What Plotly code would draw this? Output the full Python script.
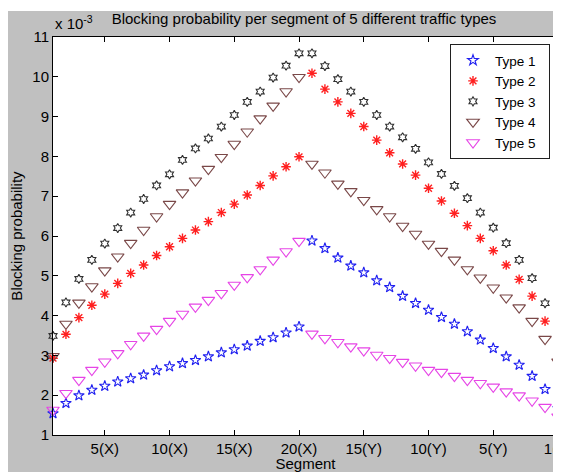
import plotly.graph_objects as go

segments = list(range(1, 41))
tick_vals = [5, 10, 15, 20, 25, 30, 35, 40]
tick_text = ["5(X)", "10(X)", "15(X)", "20(X)", "15(Y)", "10(Y)", "5(Y)", "1(Y)"]

# blocking probability, in units of 1e-3
type1 = [1.54, 1.80, 1.99, 2.13, 2.23, 2.34, 2.42, 2.51, 2.62, 2.72, 2.80, 2.88, 2.97, 3.07, 3.15, 3.24, 3.36, 3.45, 3.57, 3.72,
         5.88, 5.69, 5.45, 5.25, 5.08, 4.88, 4.71, 4.49, 4.31, 4.14, 3.96, 3.79, 3.60, 3.39, 3.18, 2.97, 2.76, 2.48, 2.15, 1.67]
type2 = [2.93, 3.53, 3.95, 4.26, 4.54, 4.81, 5.06, 5.27, 5.51, 5.73, 5.94, 6.15, 6.36, 6.59, 6.80, 7.03, 7.27, 7.51, 7.74, 7.99,
         10.09, 9.69, 9.37, 9.08, 8.75, 8.41, 8.09, 7.81, 7.53, 7.20, 6.88, 6.57, 6.26, 5.94, 5.63, 5.27, 4.91, 4.49, 3.86, 3.07]
type3 = [3.49, 4.33, 4.92, 5.40, 5.81, 6.20, 6.59, 6.93, 7.27, 7.55, 7.91, 8.20, 8.45, 8.75, 9.04, 9.37, 9.63, 9.98, 10.28, 10.59,
         10.59, 10.27, 9.94, 9.63, 9.37, 9.04, 8.75, 8.48, 8.19, 7.85, 7.56, 7.26, 6.95, 6.59, 6.21, 5.82, 5.40, 4.94, 4.31, 3.49]
type4 = [2.98, 3.79, 4.32, 4.73, 5.13, 5.48, 5.82, 6.15, 6.49, 6.80, 7.09, 7.39, 7.68, 7.98, 8.31, 8.62, 8.95, 9.27, 9.63, 9.99,
         7.81, 7.59, 7.31, 7.12, 6.90, 6.67, 6.49, 6.25, 6.05, 5.80, 5.62, 5.40, 5.16, 4.95, 4.70, 4.45, 4.20, 3.86, 3.41, 2.84]
type5 = [1.63, 2.05, 2.38, 2.63, 2.84, 3.05, 3.28, 3.49, 3.66, 3.86, 4.04, 4.22, 4.39, 4.56, 4.77, 4.96, 5.16, 5.40, 5.61, 5.87,
         3.54, 3.43, 3.33, 3.22, 3.12, 3.01, 2.93, 2.83, 2.74, 2.63, 2.58, 2.48, 2.38, 2.30, 2.21, 2.09, 1.99, 1.86, 1.70, 1.46]

series = [
    ("Type 1", type1, "star-open", "#2020f0", 8, 1.1),
    ("Type 2", type2, "asterisk-open", "#ff2020", 8, 1.4),
    ("Type 3", type3, "hexagram-open", "#303030", 7, 1.1),
    ("Type 4", type4, "triangle-down-open", "#7a4848", 11, 1.1),
    ("Type 5", type5, "triangle-down-open", "#e645e6", 11, 1.1),
]

FONT = "Liberation Sans, Arial, Helvetica, sans-serif"
GRAY = "#c0c0c0"

fig = go.Figure()
for name, vals, sym, col, sz, lw in series:
    fig.add_trace(go.Scatter(
        x=segments, y=vals, mode="markers", name=name + "\u00a0\u00a0", cliponaxis=False,
        marker=dict(symbol=sym, size=sz, color=col, line=dict(color=col, width=lw)),
    ))

# the page body has an 8px margin, so the figure is drawn at (8, 8)
W, H = 553, 464
L, R, T, B = 45, 3, 29, 37
pw, ph = W - L - R, H - T - B

def px_to_paper_x(px):
    return (px - L) / pw

def px_to_paper_y(py):
    return 1 - (py - T) / ph

fig.update_layout(
    width=W, height=H,
    margin=dict(l=L, r=R, t=T, b=B, pad=0, autoexpand=False),
    paper_bgcolor=GRAY, plot_bgcolor="white",
    font=dict(family=FONT, size=14, color="black"),
    title=dict(text="Blocking probability per segment of 5 different traffic types",
               x=px_to_paper_x(296), xref="paper", xanchor="center",
               y=1 - 10.5 / H, yref="container", yanchor="middle",
               font=dict(family=FONT, size=15, color="black")),
    showlegend=True,
    legend=dict(x=px_to_paper_x(542), y=px_to_paper_y(36), xanchor="right", yanchor="top",
                bgcolor="white", bordercolor="#202020", borderwidth=1,
                font=dict(family=FONT, size=13.5, color="black"),
                itemwidth=34, tracegroupgap=0),
    shapes=[
        dict(type="rect", xref="paper", yref="paper", layer="below",
             x0=px_to_paper_x(0), x1=px_to_paper_x(W), y0=px_to_paper_y(0), y1=px_to_paper_y(3),
             fillcolor="white", line=dict(width=0)),
    ],
    annotations=[
        dict(text="x 10<sup>-3</sup>", xref="paper", yref="paper", x=0, y=1,
             xanchor="left", yanchor="bottom", yshift=3, showarrow=False,
             font=dict(family=FONT, size=15, color="black")),
    ],
)

fig.update_xaxes(
    range=[1, 40], tickmode="array", tickvals=tick_vals, ticktext=tick_text,
    ticks="inside", ticklen=5, tickcolor="black", showgrid=False, zeroline=False,
    showline=True, linecolor="black", linewidth=1, mirror="ticks", automargin=False,
    ticklabeloverflow="allow", tickfont=dict(family=FONT, size=15, color="black"),
    title=dict(text="Segment", standoff=4, font=dict(family=FONT, size=15, color="black")),
)
fig.update_yaxes(
    range=[1, 11], dtick=1, tick0=1,
    ticks="inside", ticklen=5, tickcolor="black", showgrid=False, zeroline=False,
    showline=True, linecolor="black", linewidth=1, mirror="ticks", automargin=False,
    tickfont=dict(family=FONT, size=15, color="black"),
    title=dict(text="Blocking probability", standoff=9, font=dict(family=FONT, size=15, color="black")),
)

fig.write_html("out.html")
